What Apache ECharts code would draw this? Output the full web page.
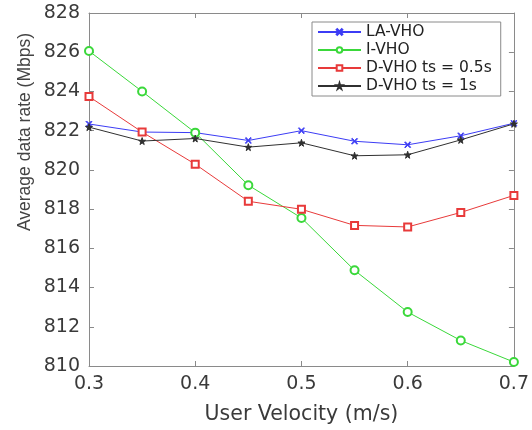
<!DOCTYPE html>
<html>
<head>
<meta charset="utf-8">
<script src="https://cdn.jsdelivr.net/npm/echarts@6/dist/echarts.min.js"></script>
<style>html,body{margin:0;padding:0;background:#fff;}#c{width:532px;height:430px;}</style>
</head>
<body>
<div id="c"></div>
<script>
const velocity = [0.3, 0.35, 0.4, 0.45, 0.5, 0.55, 0.6, 0.65, 0.7];
const laVho = [822.34, 821.93, 821.9, 821.5, 822.0, 821.46, 821.28, 821.74, 822.38];
const iVho = [826.06, 824.0, 821.9, 819.22, 817.55, 814.88, 812.75, 811.3, 810.2];
const dVho05 = [823.74, 821.93, 820.29, 818.4, 817.99, 817.17, 817.09, 817.83, 818.7];
const dVho1 = [822.18, 821.47, 821.6, 821.16, 821.38, 820.72, 820.77, 821.53, 822.35];
const seriesNames = ['LA-VHO', 'I-VHO', 'D-VHO ts = 0.5s', 'D-VHO ts = 1s'];
const yTicks = [810, 812, 814, 816, 818, 820, 822, 824, 826, 828];
const xTicks = [0.3, 0.4, 0.5, 0.6, 0.7];
const xTitle = 'User Velocity (m/s)';
const yTitle = 'Average data rate (Mbps)';

const pair = arr => velocity.map((v, i) => [v, arr[i]]);
const crossPath = 'path://M0,1 L1,0 L5,4 L9,0 L10,1 L6,5 L10,9 L9,10 L5,6 L1,10 L0,9 L4,5 Z';
const starPath = 'path://M50,0 L61,35 L98,35 L68,57 L79,91 L50,70 L21,91 L32,57 L2,35 L39,35 Z';
const axisCol = '#8a8a8a';
const labelCol = '#3a3a3a';
const fontFam = '"DejaVu Sans", sans-serif';

function mk(name, data, color, symbol, size) {
  return {
    name: name, type: 'line', data: pair(data), symbol: symbol, symbolSize: size,
    lineStyle: {color: color, width: 1},
    itemStyle: {color: color, borderColor: color, borderWidth: 1},
    emphasis: {disabled: true}, animation: false
  };
}

const chart = echarts.init(document.getElementById('c'), null, {renderer: 'canvas'});
chart.setOption({
  backgroundColor: '#fff',
  animation: false,
  grid: {left: 89, right: 14, top: 13, bottom: 52, containLabel: false},
  legend: {
    data: seriesNames, orient: 'vertical', left: 312, top: 22,
    itemWidth: 43, itemHeight: 7, itemGap: 2,
    padding: [2, 9, 2, 5],
    backgroundColor: '#fff', borderColor: '#8a8a8a', borderWidth: 1,
    textStyle: {fontFamily: fontFam, fontSize: 15.5, lineHeight: 15, color: '#222'}
  },
  xAxis: [{
    type: 'value', min: 0.3, max: 0.7, interval: 0.1,
    axisLine: {show: true, onZero: false, lineStyle: {color: axisCol}},
    axisTick: {show: true, inside: true, length: 5, lineStyle: {color: axisCol}},
    axisLabel: {fontFamily: fontFam, fontSize: 19, color: labelCol, margin: 9,
      formatter: v => (Math.round(v * 10) / 10).toFixed(1)},
    splitLine: {show: false},
    name: xTitle, nameLocation: 'middle', nameGap: 38,
    nameTextStyle: {fontFamily: fontFam, fontSize: 20.5, color: labelCol}
  }, {
    type: 'value', min: 0.3, max: 0.7, interval: 0.1, position: 'top',
    axisLine: {show: true, onZero: false, lineStyle: {color: axisCol}},
    axisTick: {show: true, inside: true, length: 5, lineStyle: {color: axisCol}},
    axisLabel: {show: false}, splitLine: {show: false}
  }],
  yAxis: [{
    type: 'value', min: 810, max: 828, interval: 2,
    axisLine: {show: true, onZero: false, lineStyle: {color: axisCol}},
    axisTick: {show: true, inside: true, length: 5, lineStyle: {color: axisCol}},
    axisLabel: {fontFamily: fontFam, fontSize: 19, color: labelCol, margin: 9},
    splitLine: {show: false}
  }, {
    type: 'value', min: 810, max: 828, interval: 2, position: 'right',
    axisLine: {show: true, onZero: false, lineStyle: {color: axisCol}},
    axisTick: {show: true, inside: true, length: 5, lineStyle: {color: axisCol}},
    axisLabel: {show: false}, splitLine: {show: false}
  }],
  graphic: [{
    type: 'text', x: 25, y: 132, rotation: Math.PI / 2,
    style: {text: yTitle, fontFamily: '"Liberation Sans", Arial, sans-serif', fontSize: 17.5,
      fill: '#444', textAlign: 'center', textVerticalAlign: 'middle'}
  }],
  series: [
    mk(seriesNames[0], laVho, '#3c3cf5', crossPath, 6),
    mk(seriesNames[1], iVho, '#3ad83a', 'emptyCircle', 8),
    mk(seriesNames[2], dVho05, '#e83a3a', 'emptyRect', 7),
    mk(seriesNames[3], dVho1, '#303030', starPath, 7)
  ]
});
</script>
</body>
</html>
